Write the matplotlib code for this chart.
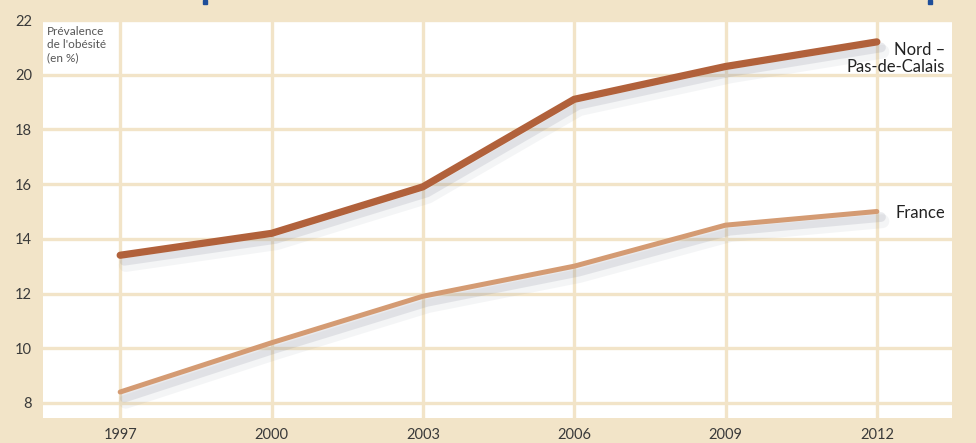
import matplotlib.pyplot as plt
import matplotlib.patheffects as pe
from matplotlib.patches import Rectangle

BEIGE = "#F2E4C8"
NORD_COLOR = "#B1613B"
FRANCE_COLOR = "#D49B73"

years = [1997, 2000, 2003, 2006, 2009, 2012]
nord_pdc = [13.4, 14.2, 15.9, 19.1, 20.3, 21.2]
france = [8.4, 10.2, 11.9, 13.0, 14.5, 15.0]
y_ticks = [8, 10, 12, 14, 16, 18, 20, 22]

plt.rcParams["font.family"] = ["Lato", "DejaVu Sans"]

fig = plt.figure(figsize=(9.76, 4.43), dpi=100, facecolor=BEIGE)
ax = fig.add_axes([43 / 976, 25 / 443, 909 / 976, 398 / 443])
ax.set_facecolor("white")

ax.set_xlim(1995.47, 2013.49)
ax.set_ylim(7.45, 22)
ax.set_xticks(years)
ax.set_yticks(y_ticks)
ax.tick_params(length=0, labelsize=10.5, labelcolor="#3a3a3a")
ax.tick_params(axis="y", pad=8)
ax.tick_params(axis="x", pad=7)
for s in ax.spines.values():
    s.set_visible(False)
ax.grid(True, color=BEIGE, linewidth=2.4)
ax.set_axisbelow(True)

# ombre floue sous les courbes
shadow_line = [
    pe.SimpleLineShadow(offset=(3, -4), shadow_color="#7A8090", alpha=0.16, linewidth=7),
    pe.SimpleLineShadow(offset=(4, -7), shadow_color="#7A8090", alpha=0.08, linewidth=10),
    pe.Normal(),
]

ax.plot(years, france, color=FRANCE_COLOR, linewidth=3.6,
        solid_capstyle="round", path_effects=shadow_line, zorder=3)
ax.plot(years, nord_pdc, color=NORD_COLOR, linewidth=5.2,
        solid_capstyle="round", path_effects=shadow_line, zorder=4)

ax.text(1995.55, 21.78, "Prévalence\nde l'obésité\n(en %)", fontsize=8.5,
        color="#555555", va="top", ha="left", linespacing=1.25)
ax.text(2013.35, 20.6, "Nord –\nPas-de-Calais", fontsize=12, color="#222222",
        ha="right", va="center", linespacing=1.1)
ax.text(2013.35, 14.95, "France", fontsize=12, color="#222222",
        ha="right", va="center",
        bbox=dict(facecolor="white", edgecolor="none", pad=3))

# bouts du titre coupé en haut
fig.patches.append(Rectangle((203 / 976, 1 - 4 / 443), 4 / 976, 4 / 443,
                             transform=fig.transFigure, color="#1F4E9A"))
fig.patches.append(Rectangle((928 / 976, 1 - 4 / 443), 4 / 976, 4 / 443,
                             transform=fig.transFigure, color="#1F4E9A"))

fig.savefig("out.png", dpi=100, facecolor=BEIGE)
